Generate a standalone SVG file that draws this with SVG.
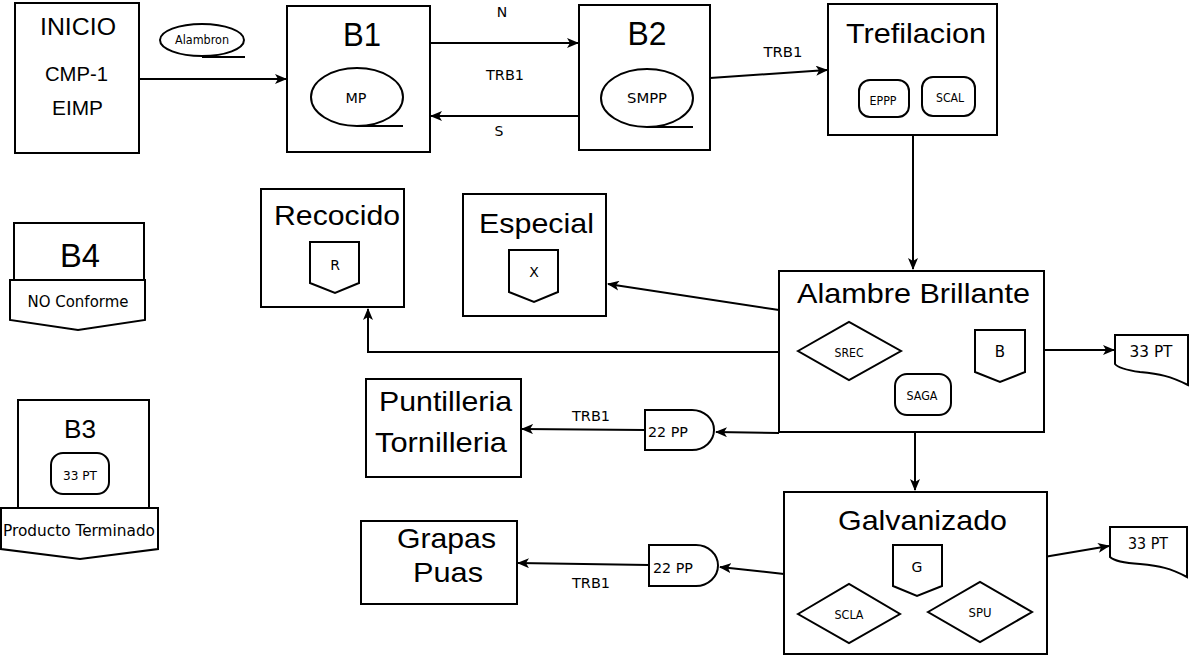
<svg xmlns="http://www.w3.org/2000/svg" width="1191" height="658" viewBox="0 0 1191 658">
<defs>
<marker id="ah" viewBox="0 0 12 10" refX="11" refY="5" markerWidth="12" markerHeight="10" markerUnits="userSpaceOnUse" orient="auto">
<path d="M0,0 L12,5 L0,10 L3,5 Z" fill="#000"/>
</marker>
<style>
.b{fill:#fff;stroke:#000;stroke-width:2}
.c{fill:none;stroke:#000;stroke-width:2;marker-end:url(#ah)}
.t{font-family:"Liberation Sans",Arial,sans-serif;fill:#000;text-anchor:middle}
.s{font-family:"DejaVu Sans",Tahoma,sans-serif;fill:#000;text-anchor:middle}
</style>
</defs>
<rect width="1191" height="658" fill="#fff"/>

<g id="connectors">
<path class="c" d="M139,79 L286,79"/>
<path class="c" d="M430,43 L578,43"/>
<path class="c" d="M579,116 L431,116"/>
<path class="c" d="M710,78 L827,70"/>
<path class="c" d="M913,135 L913,269"/>
<path class="c" d="M779,310 L608,284"/>
<path class="c" d="M779,352 L368,352 L368,309"/>
<path class="c" d="M1044,350 L1114,350"/>
<path class="c" d="M779,433 L716,432"/>
<path class="c" d="M645,430 L522,429"/>
<path class="c" d="M915,432 L915,490"/>
<path class="c" d="M1044,557 L1109,546"/>
<path class="c" d="M784,574 L720,567"/>
<path class="c" d="M649,565 L518,563"/>
<text class="s" x="502" y="17" font-size="14">N</text>
<text class="s" x="505" y="80" font-size="14" textLength="38" lengthAdjust="spacingAndGlyphs">TRB1</text>
<text class="s" x="499" y="136" font-size="14">S</text>
<text class="s" x="783" y="57" font-size="14" textLength="39" lengthAdjust="spacingAndGlyphs">TRB1</text>
<text class="s" x="591" y="421" font-size="14" textLength="38" lengthAdjust="spacingAndGlyphs">TRB1</text>
<text class="s" x="591" y="588" font-size="14" textLength="38" lengthAdjust="spacingAndGlyphs">TRB1</text>
</g>

<g id="inicio">
<rect class="b" x="15" y="3" width="124" height="150"/>
<text class="t" x="78" y="35" font-size="24" textLength="76" lengthAdjust="spacingAndGlyphs">INICIO</text>
<text class="t" x="76.5" y="81" font-size="20" textLength="63" lengthAdjust="spacingAndGlyphs">CMP-1</text>
<text class="t" x="77.5" y="115" font-size="20" textLength="51" lengthAdjust="spacingAndGlyphs">EIMP</text>
</g>

<g id="alambron">
<ellipse class="b" cx="202" cy="40" rx="42" ry="16"/>
<path d="M202,57 L245,57" stroke="#000" stroke-width="2"/>
<text class="s" x="202" y="44" font-size="12" textLength="54" lengthAdjust="spacingAndGlyphs">Alambron</text>
</g>

<g id="b1">
<rect class="b" x="287" y="6" width="143" height="146"/>
<text class="t" x="362" y="46" font-size="33" textLength="38" lengthAdjust="spacingAndGlyphs">B1</text>
<ellipse class="b" cx="357" cy="97" rx="46" ry="29"/>
<path d="M357,126 L403,126" stroke="#000" stroke-width="2"/>
<text class="s" x="356" y="103" font-size="14" textLength="21" lengthAdjust="spacingAndGlyphs">MP</text>
</g>

<g id="b2">
<rect class="b" x="579" y="5" width="131" height="145"/>
<text class="t" x="647" y="45" font-size="33" textLength="39" lengthAdjust="spacingAndGlyphs">B2</text>
<ellipse class="b" cx="647" cy="98" rx="46" ry="29"/>
<path d="M647,127 L693,127" stroke="#000" stroke-width="2"/>
<text class="s" x="647" y="103" font-size="14" textLength="40" lengthAdjust="spacingAndGlyphs">SMPP</text>
</g>

<g id="trefilacion">
<rect class="b" x="828" y="4" width="169" height="131"/>
<text class="t" x="916" y="43" font-size="28" textLength="140" lengthAdjust="spacingAndGlyphs">Trefilacion</text>
<rect class="b" x="859" y="80" width="50" height="37" rx="11"/>
<text class="s" x="883" y="105" font-size="12" textLength="27" lengthAdjust="spacingAndGlyphs">EPPP</text>
<rect class="b" x="922" y="77" width="53" height="39" rx="11"/>
<text class="s" x="950" y="102" font-size="12" textLength="28" lengthAdjust="spacingAndGlyphs">SCAL</text>
</g>

<g id="b4">
<rect class="b" x="14" y="223" width="130" height="57"/>
<text class="t" x="80" y="267" font-size="33" textLength="40" lengthAdjust="spacingAndGlyphs">B4</text>
<path class="b" d="M10,280 L145,280 L145,320 L78,330 L10,320 Z"/>
<text class="s" x="78" y="307" font-size="15" textLength="101" lengthAdjust="spacingAndGlyphs">NO Conforme</text>
</g>

<g id="b3">
<rect class="b" x="18" y="400" width="131" height="108"/>
<text class="t" x="80" y="438" font-size="26" textLength="32" lengthAdjust="spacingAndGlyphs">B3</text>
<rect class="b" x="51" y="453" width="58" height="41" rx="12"/>
<text class="s" x="80" y="480" font-size="12" textLength="34" lengthAdjust="spacingAndGlyphs">33 PT</text>
<path class="b" d="M1,508 L158,508 L158,549 L80,559 L1,549 Z"/>
<text class="s" x="79" y="536" font-size="15" textLength="152" lengthAdjust="spacingAndGlyphs">Producto Terminado</text>
</g>

<g id="recocido">
<rect class="b" x="261" y="189" width="143" height="118"/>
<text class="t" x="337" y="225" font-size="28" textLength="126" lengthAdjust="spacingAndGlyphs">Recocido</text>
<path class="b" d="M310,242 L359,242 L359,283 L335,293 L310,283 Z"/>
<text class="s" x="335" y="270" font-size="14">R</text>
</g>

<g id="especial">
<rect class="b" x="463" y="194" width="143" height="122"/>
<text class="t" x="536.5" y="233" font-size="28" textLength="115" lengthAdjust="spacingAndGlyphs">Especial</text>
<path class="b" d="M509,250 L558,250 L558,292 L534,302 L509,292 Z"/>
<text class="s" x="534" y="277" font-size="14">X</text>
</g>

<g id="alambre-brillante">
<rect class="b" x="779" y="271" width="265" height="161"/>
<text class="t" x="913.5" y="303" font-size="28" textLength="233" lengthAdjust="spacingAndGlyphs">Alambre Brillante</text>
<path class="b" d="M798,351 L849,322 L901,351 L849,380 Z"/>
<text class="s" x="849" y="357" font-size="13" textLength="29" lengthAdjust="spacingAndGlyphs">SREC</text>
<path class="b" d="M975,330 L1025,330 L1025,372 L1000,382 L975,372 Z"/>
<text class="s" x="1000" y="357" font-size="15">B</text>
<rect class="b" x="895" y="374" width="56" height="41" rx="12"/>
<text class="s" x="922" y="400" font-size="12" textLength="31" lengthAdjust="spacingAndGlyphs">SAGA</text>
</g>

<g id="pt-ab">
<path class="b" d="M1115,335 L1188,335 L1188,385 C1170,376 1160,374 1140,372 C1125,370 1118,368 1115,364 Z"/>
<text class="s" x="1151" y="357" font-size="15" textLength="43" lengthAdjust="spacingAndGlyphs">33 PT</text>
</g>

<g id="puntilleria">
<rect class="b" x="366" y="379" width="155" height="98"/>
<text class="t" x="445.5" y="411" font-size="28" textLength="133" lengthAdjust="spacingAndGlyphs">Puntilleria</text>
<text class="t" x="441" y="452" font-size="28" textLength="132" lengthAdjust="spacingAndGlyphs">Tornilleria</text>
</g>

<g id="pp1">
<path class="b" d="M645,410 L692,410 A22,20 0 0 1 692,450 L645,450 Z"/>
<text class="s" x="668" y="437" font-size="14" textLength="40" lengthAdjust="spacingAndGlyphs">22 PP</text>
</g>

<g id="galvanizado">
<rect class="b" x="784" y="492" width="263" height="162"/>
<text class="t" x="922.5" y="530" font-size="28" textLength="169" lengthAdjust="spacingAndGlyphs">Galvanizado</text>
<path class="b" d="M893,545 L942,545 L942,586 L917,596 L893,586 Z"/>
<text class="s" x="917" y="572" font-size="14">G</text>
<path class="b" d="M798,614 L849,584 L900,614 L849,643 Z"/>
<text class="s" x="849" y="619" font-size="12" textLength="29" lengthAdjust="spacingAndGlyphs">SCLA</text>
<path class="b" d="M928,612 L980,582 L1032,612 L980,642 Z"/>
<text class="s" x="980" y="617" font-size="12" textLength="23" lengthAdjust="spacingAndGlyphs">SPU</text>
</g>

<g id="pt-g">
<path class="b" d="M1110,527 L1187,527 L1187,577 C1170,568 1160,566 1140,564 C1125,563 1114,561 1110,557 Z"/>
<text class="s" x="1148" y="549" font-size="15" textLength="40" lengthAdjust="spacingAndGlyphs">33 PT</text>
</g>

<g id="pp2">
<path class="b" d="M649,545 L696,545 A22,20.5 0 0 1 696,586 L649,586 Z"/>
<text class="s" x="673" y="573" font-size="14" textLength="40" lengthAdjust="spacingAndGlyphs">22 PP</text>
</g>

<g id="grapas">
<rect class="b" x="361" y="521" width="156" height="83"/>
<text class="t" x="446.5" y="548" font-size="28" textLength="99" lengthAdjust="spacingAndGlyphs">Grapas</text>
<text class="t" x="448" y="582" font-size="28" textLength="70" lengthAdjust="spacingAndGlyphs">Puas</text>
</g>
</svg>
